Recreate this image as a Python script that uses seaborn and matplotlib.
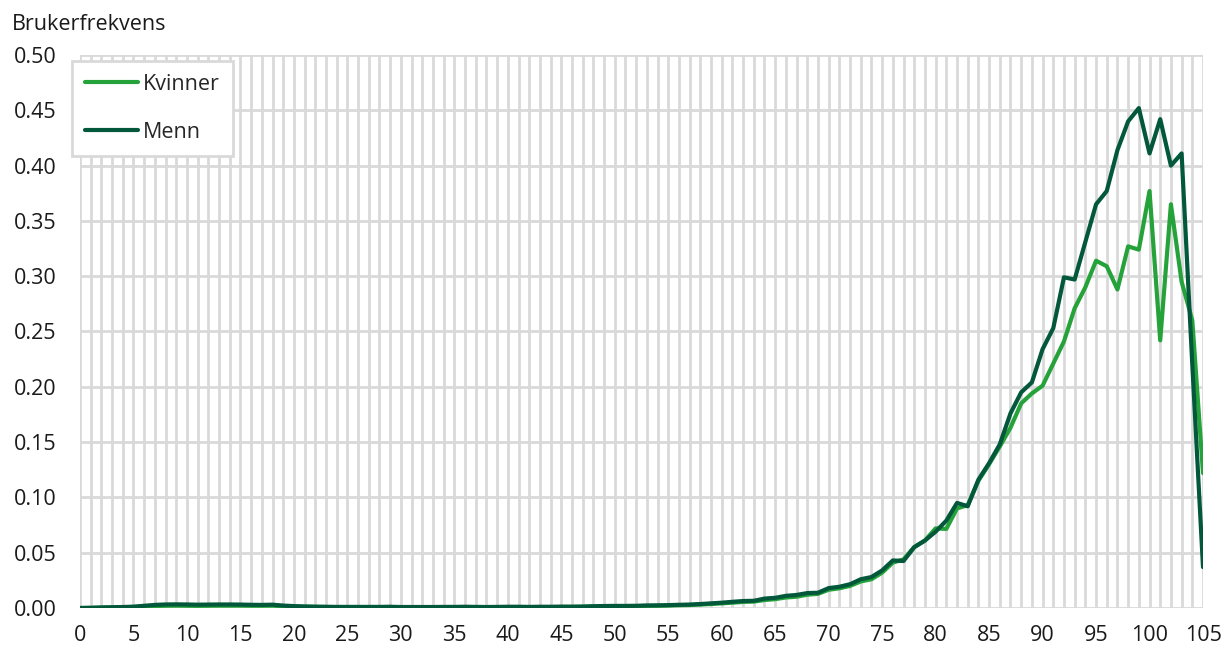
import numpy as np
import pandas as pd
import matplotlib
matplotlib.use("Agg")
import matplotlib.pyplot as plt
import seaborn as sns
from matplotlib.ticker import MultipleLocator, FormatStrFormatter

ages = list(range(0, 106))

menn = [
    0.0000, 0.0002, 0.0005, 0.0007, 0.0009, 0.0012, 0.0020, 0.0028, 0.0032, 0.0033,
    0.0032, 0.0030, 0.0031, 0.0032, 0.0032, 0.0031, 0.0029, 0.0028, 0.0030, 0.0022,
    0.0017, 0.0014, 0.0012, 0.0011, 0.0010, 0.0010, 0.0010, 0.0010, 0.0010, 0.0011,
    0.0009, 0.0009, 0.0009, 0.0009, 0.0010, 0.0010, 0.0011, 0.0010, 0.0009, 0.0010,
    0.0011, 0.0011, 0.0010, 0.0011, 0.0011, 0.0012, 0.0012, 0.0013, 0.0016, 0.0018,
    0.0019, 0.0019, 0.0020, 0.0023, 0.0024, 0.0026, 0.0029, 0.0031, 0.0036, 0.0042,
    0.0048, 0.0056, 0.0063, 0.0065, 0.0085, 0.0092, 0.0110, 0.0118, 0.0135, 0.0138,
    0.0180, 0.0192, 0.0215, 0.0260, 0.0280, 0.0340, 0.0430, 0.0425, 0.0550, 0.0610,
    0.0690, 0.0790, 0.0950, 0.0920, 0.1160, 0.1310, 0.1480, 0.1760, 0.1950, 0.2040,
    0.2340, 0.2530, 0.2990, 0.2970, 0.3310, 0.3650, 0.3770, 0.4140, 0.4400, 0.4520,
    0.4110, 0.4420, 0.4000, 0.4110, 0.2200, 0.0370,
]

kvinner = [
    0.0000, 0.0001, 0.0003, 0.0005, 0.0007, 0.0009, 0.0013, 0.0018, 0.0020, 0.0021,
    0.0020, 0.0019, 0.0020, 0.0021, 0.0021, 0.0021, 0.0020, 0.0020, 0.0021, 0.0016,
    0.0013, 0.0011, 0.0010, 0.0009, 0.0008, 0.0008, 0.0008, 0.0008, 0.0008, 0.0009,
    0.0007, 0.0007, 0.0007, 0.0007, 0.0008, 0.0008, 0.0009, 0.0008, 0.0007, 0.0008,
    0.0009, 0.0009, 0.0008, 0.0009, 0.0009, 0.0010, 0.0010, 0.0011, 0.0013, 0.0015,
    0.0016, 0.0016, 0.0017, 0.0019, 0.0020, 0.0022, 0.0025, 0.0027, 0.0031, 0.0036,
    0.0042, 0.0048, 0.0055, 0.0058, 0.0072, 0.0080, 0.0095, 0.0102, 0.0120, 0.0128,
    0.0165, 0.0178, 0.0200, 0.0240, 0.0260, 0.0320, 0.0410, 0.0440, 0.0550, 0.0610,
    0.0720, 0.0715, 0.0900, 0.0930, 0.1150, 0.1300, 0.1460, 0.1630, 0.1850, 0.1940,
    0.2010, 0.2210, 0.2410, 0.2710, 0.2900, 0.3140, 0.3090, 0.2880, 0.3270, 0.3240,
    0.3770, 0.2420, 0.3650, 0.2950, 0.2600, 0.1220,
]

series_names = ["Kvinner", "Menn"]
colors = {"Kvinner": "#25a33a", "Menn": "#03583c"}

df = pd.DataFrame({
    "Alder": ages * 2,
    "Brukerfrekvens": kvinner + menn,
    "Kjønn": ["Kvinner"] * len(ages) + ["Menn"] * len(ages),
})

sns.set_theme(style="white")
plt.rcParams["font.family"] = ["Open Sans", "DejaVu Sans"]

FS = 15.5
fig = plt.figure(figsize=(12.23, 6.5), dpi=100)
ax = fig.add_axes([80 / 1223, 1 - 608 / 650, (1203 - 80) / 1223, (608 - 55) / 650])

sns.lineplot(data=df, x="Alder", y="Brukerfrekvens", hue="Kjønn",
             hue_order=series_names, palette=colors, linewidth=3.0, ax=ax)

ax.set_xlim(0, 105)
ax.set_ylim(0, 0.5)
ax.xaxis.set_major_locator(MultipleLocator(5))
ax.xaxis.set_minor_locator(MultipleLocator(1))
ax.yaxis.set_major_locator(MultipleLocator(0.05))
ax.yaxis.set_major_formatter(FormatStrFormatter("%.2f"))
ax.grid(True, which="both", axis="x", color="#d9d9d9", linewidth=2)
ax.grid(True, which="major", axis="y", color="#d9d9d9", linewidth=2)
ax.set_axisbelow(True)
for s in ax.spines.values():
    s.set_visible(False)
ax.tick_params(axis="both", which="both", length=0, labelsize=FS, colors="#1a1a1a")
ax.tick_params(axis="x", pad=12)
ax.tick_params(axis="y", pad=17)
ax.set_xlabel("")
ax.set_ylabel("")

fig.text(12 / 1223, 1 - 24 / 650, "Brukerfrekvens", fontsize=FS, color="#1a1a1a",
         va="center", ha="left")

leg = ax.legend(loc="upper left", bbox_to_anchor=(-8 / 1123, 1 - 6 / 553), frameon=True,
                fancybox=False, fontsize=FS, handlelength=2.45, handletextpad=0.25,
                labelspacing=1.25, borderpad=0.6, borderaxespad=0, title=None)
leg.get_frame().set_edgecolor("#d9d9d9")
leg.get_frame().set_linewidth(2)
leg.get_frame().set_facecolor("white")
leg.get_frame().set_alpha(1)
for line in leg.get_lines():
    line.set_linewidth(3.0)

fig.savefig("out.png", dpi=100)
